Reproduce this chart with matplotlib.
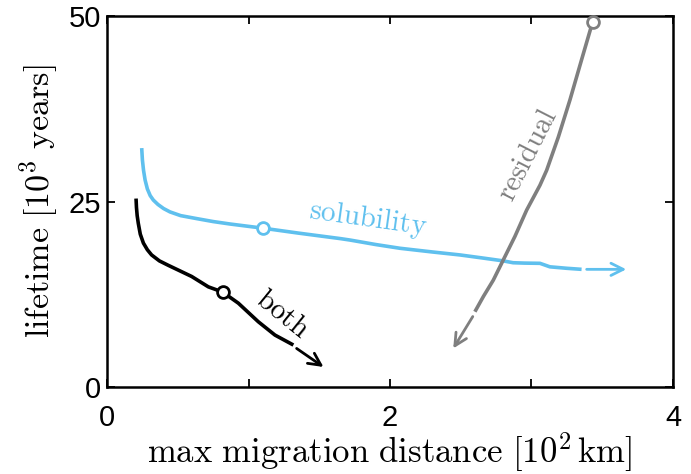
import matplotlib
matplotlib.use('Agg')
import matplotlib.pyplot as plt

plt.rcParams['mathtext.fontset'] = 'cm'
plt.rcParams['font.family'] = 'Liberation Sans'

# solubility curve (light blue)
sol_x = [0.245, 0.25, 0.258, 0.269, 0.285, 0.305, 0.327, 0.36, 0.40, 0.445, 0.52, 0.633, 0.75, 0.869,
         1.105, 1.35, 1.65, 1.72, 1.90, 2.07, 2.30, 2.495, 2.65, 2.80, 2.87, 2.95, 3.06, 3.13, 3.25, 3.354]
sol_y = [32.2, 30.6, 29.2, 27.9, 26.7, 25.8, 25.2, 24.6, 24.05, 23.6, 23.1, 22.7, 22.3, 21.97,
         21.4, 20.75, 20.0, 19.8, 19.2, 18.7, 18.2, 17.8, 17.4, 17.0, 16.75, 16.7, 16.67, 16.2, 16.0, 15.86]
sol_arrow = [(3.39, 15.86), (3.67, 15.86)]

# both curve (black)
both_x = [0.205, 0.208, 0.213, 0.221, 0.235, 0.257, 0.285, 0.315, 0.37, 0.433, 0.51, 0.598, 0.716,
          0.817, 0.928, 1.069, 1.187, 1.317]
both_y = [25.4, 24.2, 23.1, 22.05, 20.6, 19.4, 18.5, 17.8, 17.0, 16.4, 15.7, 14.9, 13.5,
          12.8, 11.3, 8.8, 7.0, 5.66]
both_arrow = [(1.34, 5.2), (1.53, 2.7)]

# residual curve (gray)
res_x = [3.432, 3.354, 3.272, 3.19, 3.107, 3.06, 2.966, 2.883, 2.80, 2.73, 2.66, 2.60]
res_y = [49.2, 44.1, 38.7, 33.7, 29.2, 27.2, 23.85, 20.3, 17.1, 14.4, 12.2, 10.15]
res_arrow = [(2.585, 9.5), (2.447, 5.2)]

# open circles on each curve
marks = {'solubility': (1.105, 21.4), 'both': (0.817, 12.8), 'residual': (3.432, 49.2)}

blue = '#5fc0ee'
gray = '#7f7f7f'

fig = plt.figure(figsize=(6.91, 4.74), dpi=100)
ax = fig.add_axes([0.1549, 0.1835, 0.819, 0.7827])

for xs, ys, c in [(sol_x, sol_y, blue), (both_x, both_y, 'black'), (res_x, res_y, gray)]:
    ax.plot(xs, ys, color=c, lw=2.6, solid_capstyle='butt', solid_joinstyle='round')

for (start, end), c in [(sol_arrow, blue), (both_arrow, 'black'), (res_arrow, gray)]:
    ax.annotate('', xy=end, xytext=start,
                arrowprops=dict(arrowstyle='->', color=c, lw=2.0,
                                mutation_scale=22, shrinkA=0, shrinkB=0))

for name, c in [('solubility', blue), ('both', 'black'), ('residual', gray)]:
    mx, my = marks[name]
    ax.plot(mx, my, 'o', ms=8.5, mfc='white', mec=c, mew=2.0, zorder=5, clip_on=False)

ax.text(1.845, 22.6, r'$\mathrm{solubility}$', color=blue, fontsize=21,
        rotation=-8, ha='center', va='center')
ax.text(1.24, 9.8, r'$\mathrm{both}$', color='black', fontsize=21,
        rotation=-39, ha='center', va='center')
ax.text(2.972, 31.3, r'$\mathrm{residual}$', color=gray, fontsize=21,
        rotation=63, ha='center', va='center')

ax.set_xlim(0, 4)
ax.set_ylim(0, 50)
ax.set_xticks([0, 1, 2, 3, 4])
ax.set_xticklabels(['0', '', '2', '', '4'])
ax.set_yticks([0, 25, 50])
ax.tick_params(direction='in', top=True, right=True, length=6, width=1.3,
               labelsize=21)
ax.tick_params(axis='x', pad=12)
ax.tick_params(axis='y', pad=4)
for s in ax.spines.values():
    s.set_linewidth(1.8)

ax.set_xlabel(r'$\mathrm{max\ migration\ distance\ [10^2\,km]}$', fontsize=25, labelpad=-1)
ax.set_ylabel(r'$\mathrm{lifetime\ [10^3\ years]}$', fontsize=24.5, labelpad=6)

fig.savefig('out.png', dpi=100)
